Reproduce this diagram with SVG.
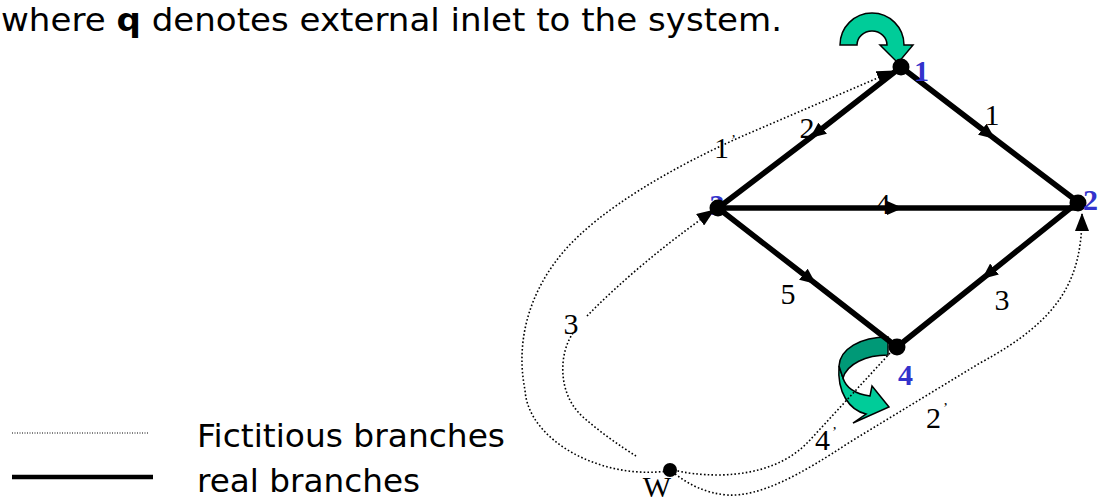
<svg xmlns="http://www.w3.org/2000/svg" width="1098" height="501" viewBox="0 0 1098 501">
<defs>
<style>
.txt{font-family:"DejaVu Sans",Verdana,sans-serif;font-size:32px;fill:#000}
.lbl{font-family:"Liberation Serif","Times New Roman",serif;font-size:30px;fill:#000}
.pr{font-size:15px}
.nlbl{font-family:"Liberation Serif","Times New Roman",serif;font-size:30px;font-weight:bold;fill:#3333CC}
.real{fill:none;stroke:#000;stroke-width:5.5}
.fict{fill:none;stroke:#000;stroke-width:1.6;stroke-dasharray:1.6 2.2}
.dot{fill:#000}
.green{fill:#00CC99;stroke:#000;stroke-width:1.5;stroke-linejoin:miter}
.dgreen{fill:#009977;stroke:#000;stroke-width:1.5}
</style>
<marker id="ah" viewBox="0 0 16 14" refX="16" refY="7" markerWidth="16" markerHeight="14" orient="auto" markerUnits="userSpaceOnUse"><path d="M0,0 L16,7 L0,14 Z" fill="#000"/></marker>
<marker id="fh" viewBox="0 0 18 14" refX="17" refY="7" markerWidth="18" markerHeight="14" orient="auto" markerUnits="userSpaceOnUse"><path d="M0,0 L18,7 L0,14 Z" fill="#000"/></marker>
</defs>
<rect width="1098" height="501" fill="#fff"/>

<text class="txt" x="1" y="31" textLength="781" lengthAdjust="spacingAndGlyphs">where <tspan font-weight="bold">q</tspan> denotes external inlet to the system.</text>

<g id="legend">
<line x1="12" y1="433" x2="148" y2="433" stroke="#000" stroke-width="1" stroke-dasharray="1 1.5"/>
<line x1="12" y1="477" x2="153" y2="477" stroke="#000" stroke-width="4.5"/>
<text class="txt" x="197" y="447" textLength="308" lengthAdjust="spacingAndGlyphs">Fictitious branches</text>
<text class="txt" x="197" y="492" textLength="223" lengthAdjust="spacingAndGlyphs">real branches</text>
</g>

<g id="labels-under">
<text class="lbl" x="807" y="138" text-anchor="middle">2</text>
<text class="lbl" x="883" y="214" text-anchor="middle">4</text>
<text class="lbl" x="788" y="304" text-anchor="middle">5</text>
<text class="nlbl" x="717" y="215" text-anchor="middle">3</text>
</g>

<g id="inflow-arrows">
<path class="green" d="M840,45 A32 32 0 0 1 904,45 L913,45 L898,63 L880,45 L887,45 A15 14 0 0 0 857,45 Z"/>
<path class="green" d="M839,366 C837,392 849,410 866,414 L853,423 L889,407 L872,386 L870,396 C856,394 846,388 843,378 Z"/>
<path class="dgreen" d="M888,337 C860,337 840,349 839,366 L843,378 C847,364 866,355 888,355 Z"/>
</g>

<g id="connectors">
<path class="real" d="M901,67 L995,139 L1078,202" marker-mid="url(#ah)"/>
<path class="real" d="M901,67 L810,138 L718,208" marker-mid="url(#ah)"/>
<path class="real" d="M718,208 L903,208 L1078,208" marker-mid="url(#ah)"/>
<path class="real" d="M718,208 L816,284 L897,347" marker-mid="url(#ah)"/>
<path class="real" d="M1078,202 L982,279 L897,347" marker-mid="url(#ah)"/>
<path class="fict" d="M668,471 C600,480 528,440 525,390 C515,340 530,290 565,250 C600,210 670,168 745,135 L894,71" marker-end="url(#fh)"/>
<path class="fict" d="M587,316 Q640,262 714,210" marker-end="url(#fh)"/>
<path class="fict" d="M573,333 C558,355 558,395 583,417 C600,432 620,446 636,456"/>
<path class="fict" d="M674,470 C685,473 700,475 720,475 C760,474 790,462 810,440 L891,352"/>
<path class="fict" d="M675,474 C690,485 705,493 727,495 C760,497 800,475 850,442 L980,363 C1060,320 1082,280 1082,214" marker-end="url(#fh)"/>
</g>

<g id="branch-labels">
<text class="lbl" x="992" y="125" text-anchor="middle">1</text>
<text class="lbl" x="1002" y="310" text-anchor="middle">3</text>
<text class="lbl" x="714" y="158">1<tspan class="pr" dx="2" dy="-13">’</tspan></text>
<text class="lbl" x="571" y="334" text-anchor="middle">3</text>
<text class="lbl" x="815" y="450">4<tspan class="pr" dx="2" dy="-13">’</tspan></text>
<text class="lbl" x="926" y="428">2<tspan class="pr" dx="2" dy="-15">’</tspan></text>
</g>

<g id="node1"><circle class="dot" cx="901" cy="67" r="8.5"/><text class="nlbl" x="914" y="81">1</text></g>
<g id="node2"><circle class="dot" cx="1078" cy="203" r="8.5"/><text class="nlbl" x="1083" y="210">2</text></g>
<g id="node3"><circle class="dot" cx="718" cy="208" r="8.5"/></g>
<g id="node4"><circle class="dot" cx="897" cy="347" r="8.5"/><text class="nlbl" x="898" y="385">4</text></g>
<g id="nodeW"><circle class="dot" cx="670" cy="470" r="7"/><text class="lbl" x="657" y="497" text-anchor="middle" font-size="26">W</text></g>
</svg>
